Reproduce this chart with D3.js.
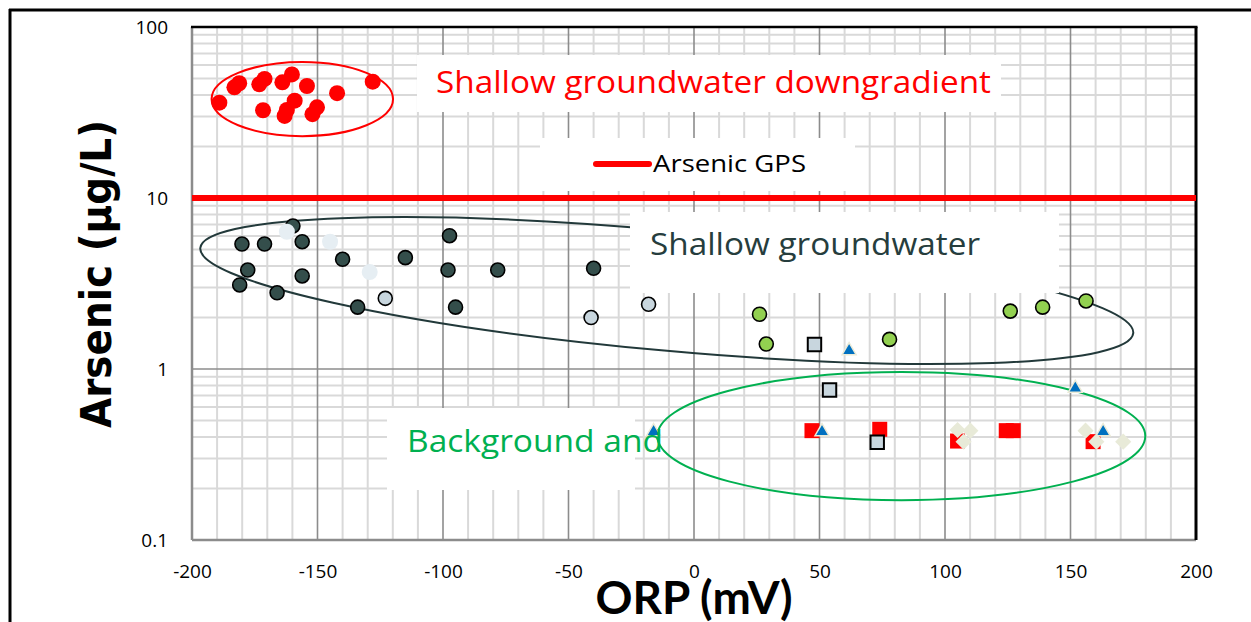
<!DOCTYPE html>
<html>
<head>
<meta charset="utf-8">
<script src="https://cdn.jsdelivr.net/npm/d3@7"></script>
<style>
  body { margin: 0; background: #fff; }
  svg { display: block; }
</style>
</head>
<body>
<div id="chart"></div>
<script>
// data: [ORP mV, arsenic ug/L]

var downgradient = [
  [-189.1, 36.1], [-183.1, 44.4], [-181.2, 46.9], [-173.2, 46.2], [-171.1, 49.7],
  [-171.7, 32.6], [-164.0, 47.5], [-160.2, 52.8], [-154.2, 45.2], [-159.1, 37.1],
  [-162.2, 32.7], [-163.1, 30.2], [-150.2, 33.9], [-152.0, 30.9], [-142.2, 41.0],
  [-128.0, 47.9]
];

var shallowDark = [
  [-159.8, 6.86], [-180.1, 5.38], [-171.1, 5.38], [-156.1, 5.55], [-177.8, 3.79],
  [-181.0, 3.10], [-166.1, 2.79], [-156.1, 3.50], [-140.0, 4.38], [-115.0, 4.48],
  [-97.4, 6.02], [-98.0, 3.79], [-95.0, 2.30], [-134.0, 2.30], [-78.2, 3.79],
  [-40.0, 3.88]
];

var shallowPale = [[-162.2, 6.35], [-145.0, 5.55], [-129.2, 3.69]];

var shallowLight = [[-123.0, 2.59], [-41.0, 2.00], [-18.1, 2.39]];

var shallowGreen = [
  [26.1, 2.09], [28.8, 1.40], [77.9, 1.49], [126.0, 2.18], [138.9, 2.30], [156.2, 2.50]
];

var bgRedSquares = [
  [47.0, 0.436], [74.0, 0.444], [124.4, 0.436], [127.2, 0.436], [105.0, 0.379], [159.0, 0.376]
];

var bgGreySquares = [[48.0, 1.39], [54.0, 0.754], [73.0, 0.373]];

var bgTriangles = [
  [61.8, 1.28], [-16.1, 0.430], [51.0, 0.430], [151.9, 0.771], [163.0, 0.430]
];

var bgDiamonds = [
  [105.0, 0.440], [110.1, 0.436], [107.4, 0.376], [156.0, 0.436], [160.3, 0.376], [171.0, 0.376]
];

var gpsValue = 10;

var xTicks = [-200, -150, -100, -50, 0, 50, 100, 150, 200];
var yTicks = [0.1, 1, 10, 100];
var yTickLabels = ["0.1", "1", "10", "100"];

// group outlines (ORP / arsenic extents)
var redGroup = {left: -192.2, right: -119.9, top: 62.4, bottom: 23.0};
var darkGroup = {tipA: [-196.7, 5.10], tipB: [175.0, 1.62]};
var greenGroup = {left: -14.6, right: 179.8, top: 0.96, bottom: 0.171};

// layout

var W = 1251, H = 622;
var plot = {left: 192, right: 1196, top: 27, bottom: 540};

var svg = d3.select("#chart")
  .append("svg")
  .attr("width", W)
  .attr("height", H);

var x = d3.scaleLinear().domain([-200, 200]).range([plot.left, plot.right]);
var y = d3.scaleLog().domain([0.1, 100]).range([plot.bottom, plot.top]);

// gridlines

var minorX = d3.range(-190, 200, 10).filter(function(v) { return v % 50 !== 0; });
var majorX = [-150, -100, -50, 0, 50, 100, 150];
var minorY = [];
[0.1, 1, 10].forEach(function(dec) {
  d3.range(2, 10).forEach(function(k) { minorY.push(k * dec); });
});

var grid = svg.append("g");

grid.selectAll(".mx").data(minorX).enter().append("line")
  .attr("x1", d => x(d)).attr("x2", d => x(d))
  .attr("y1", plot.top).attr("y2", plot.bottom)
  .attr("stroke", "#d9d9d9").attr("stroke-width", 2);

grid.selectAll(".my").data(minorY).enter().append("line")
  .attr("x1", plot.left).attr("x2", plot.right)
  .attr("y1", d => y(d)).attr("y2", d => y(d))
  .attr("stroke", "#d9d9d9").attr("stroke-width", 2);

grid.selectAll(".Mx").data(majorX).enter().append("line")
  .attr("x1", d => x(d)).attr("x2", d => x(d))
  .attr("y1", plot.top).attr("y2", plot.bottom)
  .attr("stroke", "#8c8c8c").attr("stroke-width", 1.6);

grid.selectAll(".My").data([1, 10]).enter().append("line")
  .attr("x1", plot.left).attr("x2", plot.right)
  .attr("y1", d => y(d)).attr("y2", d => y(d))
  .attr("stroke", "#8c8c8c").attr("stroke-width", 1.6);

// plot frame
svg.append("line")
  .attr("x1", plot.left).attr("x2", plot.left)
  .attr("y1", plot.top).attr("y2", plot.bottom)
  .attr("stroke", "#8c8c8c").attr("stroke-width", 2.5);
svg.append("line")
  .attr("x1", plot.left).attr("x2", plot.right)
  .attr("y1", plot.bottom).attr("y2", plot.bottom)
  .attr("stroke", "#8c8c8c").attr("stroke-width", 2.5);
svg.append("line")
  .attr("x1", plot.left - 1).attr("x2", plot.right + 1.5)
  .attr("y1", plot.top).attr("y2", plot.top)
  .attr("stroke", "#000").attr("stroke-width", 2.5);
svg.append("line")
  .attr("x1", plot.right).attr("x2", plot.right)
  .attr("y1", plot.top).attr("y2", plot.bottom)
  .attr("stroke", "#000").attr("stroke-width", 3);

// outer chart frame (only top/left visible)
svg.append("line").attr("x1", 9).attr("x2", W).attr("y1", 10).attr("y2", 10)
  .attr("stroke", "#000").attr("stroke-width", 3);
svg.append("line").attr("x1", 10).attr("x2", 10).attr("y1", 9).attr("y2", H)
  .attr("stroke", "#000").attr("stroke-width", 3);

// axes labels

var tickFont = "'Open Sans', 'Noto Sans', sans-serif";

var yAxis = svg.append("g")
  .attr("transform", `translate(${plot.left}, 0)`)
  .call(d3.axisLeft(y).tickValues(yTicks).tickSize(0).tickPadding(24)
    .tickFormat(function(d, i) { return yTickLabels[i]; }));
yAxis.select(".domain").remove();
yAxis.selectAll("text").attr("font-size", 19).attr("font-family", tickFont).attr("fill", "#000");

var xAxis = svg.append("g")
  .attr("transform", `translate(0, ${plot.bottom})`)
  .call(d3.axisBottom(x).tickValues(xTicks).tickSize(0).tickPadding(25)
    .tickFormat(function(d) { return String(d); }));
xAxis.select(".domain").remove();
xAxis.selectAll("text").attr("font-size", 19).attr("font-family", tickFont).attr("fill", "#000");

svg.append("text")
  .attr("transform", "translate(111, 274) rotate(-90)")
  .attr("text-anchor", "middle")
  .attr("font-family", "'DejaVu Sans', sans-serif")
  .attr("font-weight", "bold")
  .attr("font-size", 42)
  .attr("textLength", 308)
  .attr("lengthAdjust", "spacingAndGlyphs")
  .text("Arsenic (µg/L)");

svg.append("text")
  .attr("x", 694)
  .attr("y", 614)
  .attr("text-anchor", "middle")
  .attr("font-family", "Lato, 'Open Sans', sans-serif")
  .attr("font-weight", "bold")
  .attr("font-size", 45)
  .attr("textLength", 197)
  .attr("lengthAdjust", "spacingAndGlyphs")
  .text("ORP (mV)");

// GPS line
svg.append("line")
  .attr("x1", plot.left).attr("x2", plot.right)
  .attr("y1", y(gpsValue)).attr("y2", y(gpsValue))
  .attr("stroke", "#ff0000").attr("stroke-width", 6);

// group ellipses

var ell = svg.append("g").attr("fill", "none").attr("stroke-width", 2);

ell.append("ellipse")
  .attr("cx", (x(redGroup.left) + x(redGroup.right)) / 2)
  .attr("cy", (y(redGroup.top) + y(redGroup.bottom)) / 2)
  .attr("rx", (x(redGroup.right) - x(redGroup.left)) / 2)
  .attr("ry", (y(redGroup.bottom) - y(redGroup.top)) / 2)
  .attr("stroke", "#ff0000");

(function() {
  var ax = x(darkGroup.tipA[0]), ay = y(darkGroup.tipA[1]);
  var bx = x(darkGroup.tipB[0]), by = y(darkGroup.tipB[1]);
  var cx = (ax + bx) / 2, cy = (ay + by) / 2;
  var a = Math.hypot(bx - ax, by - ay) / 2;
  var ang = Math.atan2(by - ay, bx - ax) * 180 / Math.PI;
  ell.append("ellipse")
    .attr("transform", `translate(${cx}, ${cy}) rotate(${ang})`)
    .attr("rx", a).attr("ry", 60)
    .attr("stroke", "#22393a");
})();

ell.append("ellipse")
  .attr("cx", (x(greenGroup.left) + x(greenGroup.right)) / 2)
  .attr("cy", (y(greenGroup.top) + y(greenGroup.bottom)) / 2)
  .attr("rx", (x(greenGroup.right) - x(greenGroup.left)) / 2)
  .attr("ry", (y(greenGroup.bottom) - y(greenGroup.top)) / 2)
  .attr("stroke", "#00b050");

// text boxes with white fill

var boxes = svg.append("g");
boxes.append("rect").attr("x", 417).attr("y", 55).attr("width", 584).attr("height", 57).attr("fill", "#fff");
boxes.append("rect").attr("x", 540).attr("y", 138).attr("width", 315).attr("height", 53).attr("fill", "#fff");
boxes.append("rect").attr("x", 630).attr("y", 212).attr("width", 429).attr("height", 81).attr("fill", "#fff");
boxes.append("rect").attr("x", 387).attr("y", 408).attr("width", 248).attr("height", 82).attr("fill", "#fff");

var boxFont = "'Open Sans', 'Noto Sans', sans-serif";

svg.append("text")
  .attr("x", 436).attr("y", 93)
  .attr("font-family", boxFont).attr("font-size", 31)
  .attr("textLength", 555).attr("lengthAdjust", "spacingAndGlyphs")
  .attr("fill", "#ff0000")
  .text("Shallow groundwater downgradient");

svg.append("text")
  .attr("x", 650).attr("y", 255)
  .attr("font-family", boxFont).attr("font-size", 31)
  .attr("textLength", 330).attr("lengthAdjust", "spacingAndGlyphs")
  .attr("fill", "#263d3d")
  .text("Shallow groundwater");

// legend
svg.append("line")
  .attr("x1", 596).attr("x2", 649).attr("y1", 164).attr("y2", 164)
  .attr("stroke", "#ff0000").attr("stroke-width", 6).attr("stroke-linecap", "round");
svg.append("text")
  .attr("x", 653).attr("y", 172)
  .attr("font-family", boxFont).attr("font-size", 23)
  .attr("textLength", 153).attr("lengthAdjust", "spacingAndGlyphs")
  .attr("fill", "#000")
  .text("Arsenic GPS");

// points

var pts = svg.append("g");

function circles(data, r, fill, stroke) {
  pts.append("g").selectAll("circle").data(data).enter().append("circle")
    .attr("cx", d => x(d[0])).attr("cy", d => y(d[1]))
    .attr("r", r)
    .attr("fill", fill)
    .attr("stroke", stroke || "none")
    .attr("stroke-width", stroke ? 1.6 : 0);
}

function symbols(data, type, size, fill, stroke, sw, rot) {
  pts.append("g").selectAll("path").data(data).enter().append("path")
    .attr("d", d3.symbol().type(type).size(size))
    .attr("transform", d => `translate(${x(d[0])}, ${y(d[1])}) rotate(${rot || 0})`)
    .attr("fill", fill)
    .attr("stroke", stroke || "none")
    .attr("stroke-width", sw || 0);
}

circles(downgradient, 8, "#ff0000");
circles(shallowDark, 7, "#344e4b", "#000");
circles(shallowPale, 8, "#e6eef3");
circles(shallowLight, 7, "#c8d6de", "#000");
circles(shallowGreen, 7, "#92d050", "#000");

symbols(bgRedSquares, d3.symbolSquare, 225, "#ff0000");
symbols(bgGreySquares, d3.symbolSquare, 180, "#c8d6de", "#000", 2);
symbols(bgTriangles, d3.symbolTriangle, 85, "#0070c0", "#ecebd8", 1.5);
symbols(bgDiamonds, d3.symbolSquare, 130, "#e8ead8", null, 0, 45);

// text overlapping the background group (drawn last)
svg.append("text")
  .attr("x", 407).attr("y", 452)
  .attr("font-family", boxFont).attr("font-size", 31)
  .attr("textLength", 256).attr("lengthAdjust", "spacingAndGlyphs")
  .attr("fill", "#00b050")
  .text("Background and");
</script>
</body>
</html>
